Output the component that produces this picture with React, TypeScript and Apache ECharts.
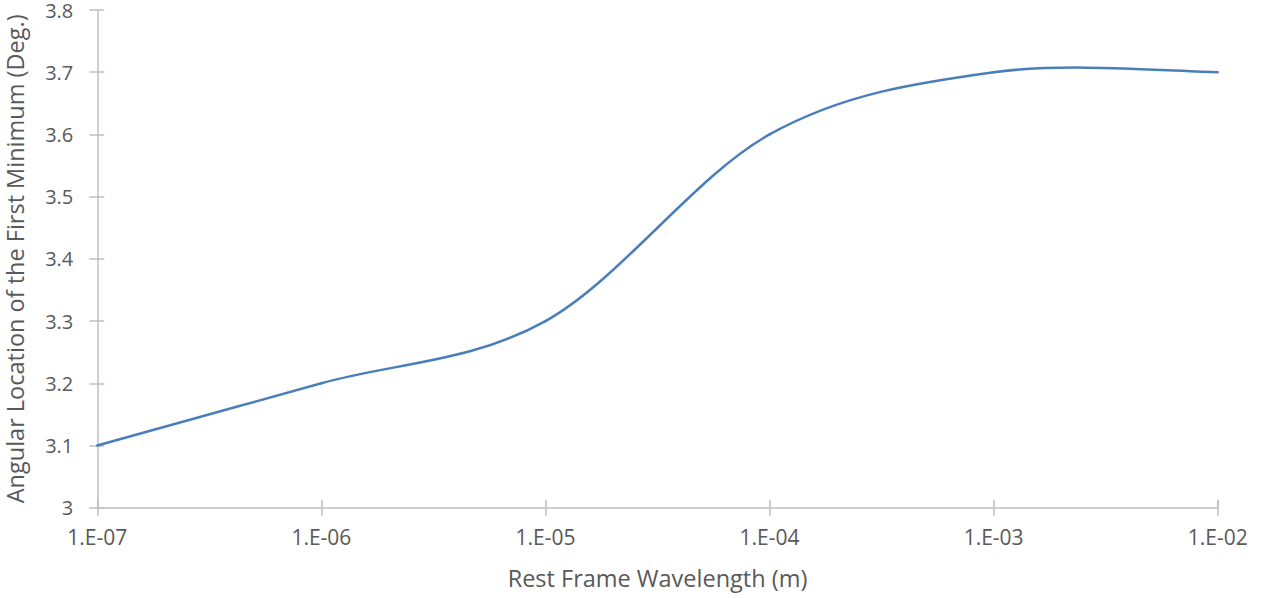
import React, { useEffect, useRef } from "react";
import * as echarts from "echarts";

const wavelengths = [1e-7, 1e-6, 1e-5, 1e-4, 1e-3, 1e-2];
const angles = [3.1, 3.2, 3.3, 3.6, 3.7, 3.7];
const yTicks = [3, 3.1, 3.2, 3.3, 3.4, 3.5, 3.6, 3.7, 3.8];

const FONT = "'Open Sans', sans-serif";
const AXIS_COLOR = "#bfbfbf";
const TEXT_COLOR = "#595959";
const LINE_COLOR = "#4a7ebb";

function fmtX(v: number) {
  const e = Math.round(Math.log10(v));
  const s = Math.abs(e).toString().padStart(2, "0");
  return `1.E${e < 0 ? "-" : "+"}${s}`;
}

export default function App() {
  const ref = useRef<HTMLDivElement>(null);
  useEffect(() => {
    if (!ref.current) return;
    const chart = echarts.init(ref.current, undefined, { renderer: "svg" });
    const xBase = {
      type: "log" as const,
      logBase: 10,
      min: wavelengths[0],
      max: wavelengths[wavelengths.length - 1],
      splitLine: { show: false },
      minorTick: { show: false },
    };
    const yBase = {
      type: "value" as const,
      min: yTicks[0],
      max: yTicks[yTicks.length - 1],
      interval: 0.1,
      splitLine: { show: false },
    };
    const n = wavelengths.length;
    chart.setOption({
      animation: false,
      grid: {
        left: 97.3,
        right: 47.3,
        top: 10,
        bottom: 90.3,
        containLabel: false,
        outerBoundsMode: "none",
      },
      xAxis: [
        {
          ...xBase,
          name: "Rest Frame Wavelength (m)",
          nameLocation: "middle",
          nameGap: 58,
          nameTextStyle: { color: TEXT_COLOR, fontFamily: FONT, fontSize: 23.5 },
          axisLine: { show: true, lineStyle: { color: AXIS_COLOR, width: 1.5 } },
          axisTick: { show: true, inside: false, length: 8, lineStyle: { color: AXIS_COLOR, width: 1.5 } },
          axisLabel: {
            color: TEXT_COLOR,
            fontFamily: FONT,
            fontSize: 21,
            margin: 19,
            formatter: (v: number) => fmtX(v),
          },
        },
        {
          ...xBase,
          position: "bottom",
          offset: 0,
          axisLine: { show: false },
          axisTick: { show: true, inside: true, length: 8, lineStyle: { color: AXIS_COLOR, width: 1.5 } },
          axisLabel: { show: false },
        },
      ],
      yAxis: [
        {
          ...yBase,
          name: "Angular Location of the First Minimum (Deg.)",
          nameLocation: "middle",
          nameGap: 70,
          nameTextStyle: { color: TEXT_COLOR, fontFamily: FONT, fontSize: 23.5, lineHeight: 24 },
          axisLine: { show: true, lineStyle: { color: AXIS_COLOR, width: 1.5 } },
          axisTick: { show: true, inside: false, length: 8, lineStyle: { color: AXIS_COLOR, width: 1.5 } },
          axisLabel: {
            color: TEXT_COLOR,
            fontFamily: FONT,
            fontSize: 20,
            lineHeight: 18,
            margin: 24,
            formatter: (v: number) => (Math.round(v * 10) / 10).toString(),
          },
        },
        {
          ...yBase,
          position: "left",
          offset: 0,
          axisLine: { show: false },
          axisTick: { show: true, inside: true, length: 7, lineStyle: { color: AXIS_COLOR, width: 1.5 } },
          axisLabel: { show: false },
        },
      ],
      series: [
        {
          type: "custom",
          xAxisIndex: 0,
          yAxisIndex: 0,
          data: wavelengths.map((w, i) => [w, angles[i]]),
          clip: false,
          renderItem: (params: any, api: any) => {
            const i = params.dataIndex;
            if (i >= n - 1) return null;
            const pt = (k: number) => {
              const kk = Math.max(0, Math.min(n - 1, k));
              return api.coord([wavelengths[kk], angles[kk]]);
            };
            const p0 = pt(i - 1);
            const p1 = pt(i);
            const p2 = pt(i + 1);
            const p3 = pt(i + 2);
            const cp1 = [p1[0] + (p2[0] - p0[0]) / 6, p1[1] + (p2[1] - p0[1]) / 6];
            const cp2 = [p2[0] - (p3[0] - p1[0]) / 6, p2[1] - (p3[1] - p1[1]) / 6];
            return {
              type: "bezierCurve",
              shape: {
                x1: p1[0],
                y1: p1[1],
                cpx1: cp1[0],
                cpy1: cp1[1],
                cpx2: cp2[0],
                cpy2: cp2[1],
                x2: p2[0],
                y2: p2[1],
              },
              style: { stroke: LINE_COLOR, lineWidth: 2.5, fill: null, lineCap: "round" },
            };
          },
        },
      ],
    });
    return () => chart.dispose();
  }, []);
  return (
    <div
      ref={ref}
      style={{ position: "absolute", left: 0, top: 0, width: 1265, height: 598, background: "#fff" }}
    />
  );
}
